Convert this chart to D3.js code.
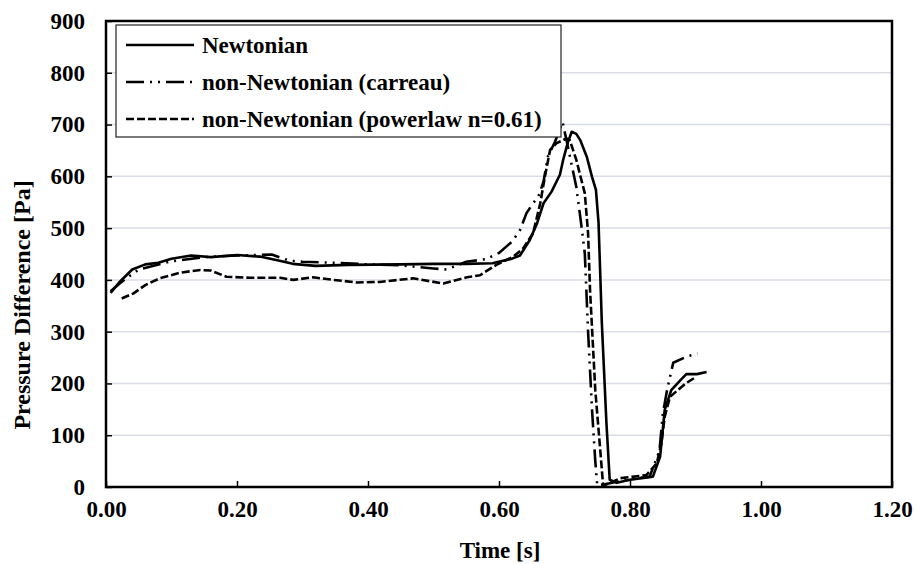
<!DOCTYPE html>
<html><head><meta charset="utf-8">
<script src="https://cdn.jsdelivr.net/npm/d3@7"></script>
<style>
body{margin:0;background:#fff;}
text{font-family:"Liberation Serif","Times New Roman",serif;font-weight:bold;fill:#000;}
</style></head>
<body><svg id="c" width="915" height="564"></svg>
<script>
const xTicks = [0, 0.2, 0.4, 0.6, 0.8, 1.0, 1.2];
const yTicks = [0, 100, 200, 300, 400, 500, 600, 700, 800, 900];
const seriesNames = ["Newtonian", "non-Newtonian (carreau)", "non-Newtonian (powerlaw n=0.61)"];

const newtonianT = [0.007,0.02,0.04,0.06,0.08,0.10,0.13,0.16,0.20,0.235,0.265,0.285,0.32,0.37,0.45,0.50,0.55,0.59,0.62,0.632,0.647,0.658,0.668,0.68,0.693,0.698,0.705,0.711,0.718,0.724,0.734,0.742,0.748,0.752,0.757,0.764,0.769,0.78,0.80,0.835,0.846,0.853,0.863,0.876,0.886,0.902,0.917];
const newtonianP = [375,395,420,430,433,441,447,444,448,445,437,431,427,429,430,431,431,432,441,447,477,509,548,570,603,632,665,686,682,670,638,599,574,510,317,124,14,8,14,20,59,149,187,205,218,218,222];

const carreauT = [0.007,0.02,0.03,0.05,0.10,0.15,0.20,0.253,0.28,0.30,0.35,0.40,0.45,0.50,0.52,0.55,0.58,0.60,0.62,0.632,0.642,0.652,0.66,0.668,0.675,0.685,0.697,0.703,0.718,0.726,0.731,0.736,0.742,0.747,0.75,0.76,0.78,0.80,0.83,0.845,0.85,0.857,0.866,0.887,0.903];
const carreauP = [378,392,402,420,436,444,447,449,437,435,433,430,428,422,420,435,440,452,474,496,529,548,560,590,640,665,705,670,580,503,451,300,150,50,3,5,10,15,20,70,140,190,240,252,258];

const powerT = [0.024,0.042,0.06,0.082,0.113,0.144,0.16,0.184,0.22,0.266,0.286,0.316,0.347,0.383,0.418,0.469,0.515,0.551,0.571,0.596,0.622,0.637,0.652,0.663,0.67,0.678,0.688,0.703,0.708,0.718,0.731,0.736,0.739,0.747,0.759,0.77,0.785,0.825,0.841,0.848,0.853,0.861,0.871,0.885,0.90];
const powerP = [364,374,390,403,414,419,418,406,404,404,400,405,400,395,396,403,393,405,409,429,445,461,490,548,599,651,664,673,670,632,567,490,380,187,3,8,17,23,46,85,136,174,185,200,212];

const svg = d3.select("#c");
const L = 106, R = 892, T = 21, B = 487;
const x = d3.scaleLinear().domain([0, 1.2]).range([L, R]);
const y = d3.scaleLinear().domain([0, 900]).range([B, T]);
const FS = 23;

// gridlines
svg.append("g").selectAll("line").data(yTicks.filter(d => d > 0 && d < 900)).join("line")
  .attr("x1", L).attr("x2", R).attr("y1", d => y(d)).attr("y2", d => y(d))
  .attr("stroke", "#d9dde5").attr("stroke-width", 1.5);

// axes
const xAxis = d3.axisBottom(x).tickValues(xTicks).tickSizeInner(-6).tickSizeOuter(0).tickPadding(14).tickFormat(d3.format(".2f"));
const gx = svg.append("g").attr("transform", `translate(0,${B})`).call(xAxis);
gx.select(".domain").remove();
gx.selectAll(".tick line").attr("stroke", "#000").attr("stroke-width", 1.5);
gx.selectAll("text").style("font-size", FS + "px").style("font-family", "Liberation Serif").style("font-weight", "bold").attr("fill", "#000");

const yAxis = d3.axisLeft(y).tickValues(yTicks).tickSizeInner(-6).tickSizeOuter(0).tickPadding(21);
const gy = svg.append("g").attr("transform", `translate(${L},0)`).call(yAxis);
gy.select(".domain").remove();
gy.selectAll(".tick line").attr("stroke", "#000").attr("stroke-width", 1.5);
gy.selectAll("text").style("font-size", FS + "px").style("font-family", "Liberation Serif").style("font-weight", "bold").attr("fill", "#000");

// frame
svg.append("rect").attr("x", L).attr("y", T).attr("width", R - L).attr("height", B - T)
  .attr("fill", "none").attr("stroke", "#000").attr("stroke-width", 2.5);

// series
const line = d3.line().x(d => x(d[0])).y(d => y(d[1])).curve(d3.curveLinear);
const styles = [
  {t: newtonianT, p: newtonianP, dash: null},
  {t: carreauT, p: carreauP, dash: "18,6,2,6,2,6"},
  {t: powerT, p: powerP, dash: "8,3"}
];
styles.forEach(s => {
  const pts = s.t.map((t, i) => [t, s.p[i]]);
  svg.append("path").datum(pts).attr("d", line)
    .attr("fill", "none").attr("stroke", "#000").attr("stroke-width", 2.6)
    .attr("stroke-linejoin", "round")
    .attr("stroke-dasharray", s.dash);
});

// legend
const lg = svg.append("g");
lg.append("rect").attr("x", 116).attr("y", 25).attr("width", 445).attr("height", 112)
  .attr("fill", "#fff").attr("stroke", "#222").attr("stroke-width", 1.2);
const rowsY = [45, 82, 119];
seriesNames.forEach((n, i) => {
  lg.append("line").attr("x1", 126).attr("x2", 194).attr("y1", rowsY[i]).attr("y2", rowsY[i])
    .attr("stroke", "#000").attr("stroke-width", 2.6).attr("stroke-dasharray", styles[i].dash);
  lg.append("text").attr("x", 202).attr("y", rowsY[i]).attr("dy", "0.35em")
    .style("font-size", FS + "px").text(n);
});

// axis titles
svg.append("text").attr("x", 500).attr("y", 550).attr("dy", "0.35em").attr("text-anchor", "middle")
  .style("font-size", FS + "px").text("Time [s]");
svg.append("text").attr("transform", "translate(22,305) rotate(-90)").attr("dy", "0.35em").attr("text-anchor", "middle")
  .style("font-size", "24px").text("Pressure Difference [Pa]");
</script></body></html>
